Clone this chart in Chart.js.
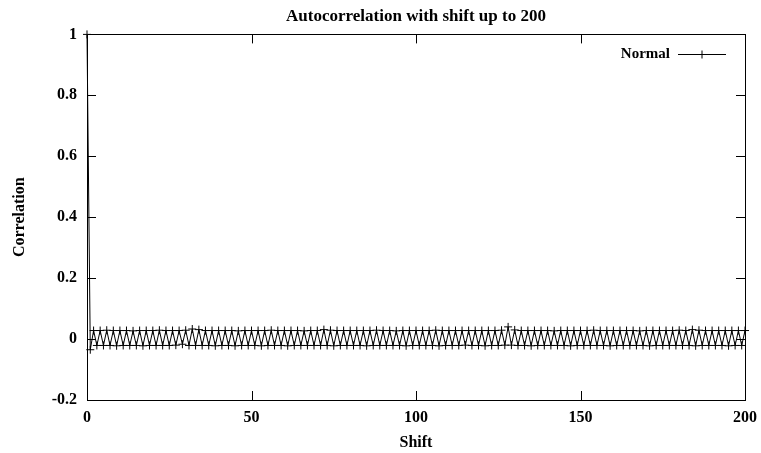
<!DOCTYPE html>
<html>
<head>
<meta charset="utf-8">
<script src="https://cdn.jsdelivr.net/npm/chart.js@4.4.1/dist/chart.umd.min.js"></script>
<style>
  html, body { margin: 0; padding: 0; background: #fff; }
  #wrap { width: 761px; height: 453px; }
</style>
</head>
<body>
<div id="wrap"><canvas id="acf" width="761" height="453"></canvas></div>
<script>
// Autocorrelation of the "Normal" sequence, shifts 0..200
const seriesName = "Normal";
const xTicks = [0, 50, 100, 150, 200];
const yTicks = [-0.2, 0, 0.2, 0.4, 0.6, 0.8, 1];

const correlation = [
  1, -0.035, 0.028, -0.021, 0.028, -0.021, 0.029, -0.021, 0.028, -0.022,
  0.028, -0.021, 0.028, -0.021, 0.027, -0.021, 0.028, -0.022, 0.028, -0.021,
  0.028, -0.021, 0.029, -0.021, 0.028, -0.021, 0.028, -0.020, 0.028, -0.017,
  0.029, -0.021, 0.033, -0.021, 0.031, -0.021, 0.028, -0.021, 0.028, -0.022,
  0.028, -0.021, 0.028, -0.021, 0.028, -0.022, 0.027, -0.021, 0.028, -0.021,
  0.028, -0.021, 0.028, -0.022, 0.028, -0.021, 0.029, -0.021, 0.028, -0.021,
  0.028, -0.022, 0.028, -0.021, 0.028, -0.021, 0.027, -0.021, 0.028, -0.021,
  0.028, -0.021, 0.031, -0.021, 0.029, -0.022, 0.028, -0.021, 0.028, -0.021,
  0.028, -0.021, 0.028, -0.021, 0.028, -0.022, 0.028, -0.021, 0.029, -0.021,
  0.028, -0.021, 0.028, -0.021, 0.027, -0.021, 0.028, -0.022, 0.028, -0.021,
  0.028, -0.021, 0.028, -0.021, 0.028, -0.021, 0.029, -0.022, 0.028, -0.021,
  0.028, -0.021, 0.028, -0.021, 0.028, -0.020, 0.028, -0.021, 0.028, -0.021,
  0.028, -0.022, 0.028, -0.021, 0.028, -0.021, 0.029, -0.020, 0.040, -0.020,
  0.030, -0.021, 0.028, -0.021, 0.028, -0.022, 0.028, -0.021, 0.028, -0.021,
  0.028, -0.021, 0.027, -0.021, 0.028, -0.021, 0.028, -0.022, 0.028, -0.021,
  0.028, -0.021, 0.028, -0.021, 0.029, -0.021, 0.028, -0.021, 0.028, -0.022,
  0.028, -0.021, 0.028, -0.021, 0.028, -0.021, 0.028, -0.021, 0.027, -0.021,
  0.028, -0.022, 0.028, -0.021, 0.028, -0.021, 0.028, -0.021, 0.028, -0.021,
  0.029, -0.021, 0.028, -0.021, 0.031, -0.022, 0.029, -0.021, 0.028, -0.021,
  0.028, -0.021, 0.028, -0.021, 0.028, -0.022, 0.028, -0.021, 0.028, -0.021,
  0.028
];

const points = correlation.map((v, shift) => ({ x: shift, y: v }));

Chart.defaults.font.family = "'Liberation Serif', 'Times New Roman', serif";
Chart.defaults.font.weight = 'bold';
Chart.defaults.font.size = 16;
Chart.defaults.color = '#000';

// gnuplot-like frame: box around the plot, ticks pointing inward, key in the corner
const framePlugin = {
  id: 'frame',
  afterLayout(chart) {
    // centre the title over the plot area instead of the whole canvas
    const t = chart.titleBlock;
    if (t) {
      t.left = chart.chartArea.left;
      t.right = chart.chartArea.right;
    }
  },
  afterDraw(chart) {
    const { ctx, chartArea: a, scales: { x, y } } = chart;
    const tl = 9;
    ctx.save();
    ctx.strokeStyle = '#000';
    ctx.lineWidth = 1;
    ctx.strokeRect(Math.round(a.left) + 0.5, Math.round(a.top) + 0.5,
      Math.round(a.right - a.left), Math.round(a.bottom - a.top));
    ctx.beginPath();
    xTicks.forEach(v => {
      const px = Math.round(x.getPixelForValue(v)) + 0.5;
      ctx.moveTo(px, a.bottom); ctx.lineTo(px, a.bottom - tl);
      ctx.moveTo(px, a.top); ctx.lineTo(px, a.top + tl);
    });
    yTicks.forEach(v => {
      const py = Math.round(y.getPixelForValue(v)) + 0.5;
      ctx.moveTo(a.left, py); ctx.lineTo(a.left + tl, py);
      ctx.moveTo(a.right, py); ctx.lineTo(a.right - tl, py);
    });
    ctx.stroke();

    // key: label on the left, line sample with a cross on the right
    const ky = 54.5;
    const kx0 = 678, kx1 = 726, kc = (kx0 + kx1) / 2;
    ctx.font = "bold 15px 'Liberation Serif', serif";
    ctx.fillStyle = '#000';
    ctx.textAlign = 'right';
    ctx.textBaseline = 'middle';
    ctx.fillText(chart.data.datasets[0].label, 670, ky);
    ctx.beginPath();
    ctx.moveTo(kx0, ky); ctx.lineTo(kx1, ky);
    ctx.moveTo(kc, ky - 4); ctx.lineTo(kc, ky + 4);
    ctx.stroke();
    ctx.restore();
  }
};

new Chart(document.getElementById('acf'), {
  type: 'line',
  data: {
    datasets: [{
      label: seriesName,
      data: points,
      borderColor: '#000',
      borderWidth: 1,
      pointStyle: 'cross',
      pointRadius: 4,
      pointBorderColor: '#000',
      pointBorderWidth: 1,
      tension: 0,
      fill: false,
      clip: false
    }]
  },
  options: {
    responsive: false,
    animation: false,
    layout: { padding: { top: 0, left: 0, right: 16, bottom: 0 } },
    plugins: {
      legend: { display: false },
      tooltip: { enabled: false },
      title: {
        display: true,
        text: 'Autocorrelation with shift up to 200',
        font: { size: 17, weight: 'bold' },
        padding: { top: 6, bottom: 8 }
      }
    },
    scales: {
      x: {
        type: 'linear',
        min: 0,
        max: 200,
        afterFit: s => { s.height = 53; s.paddingLeft = 0; s.paddingRight = 0; },
        afterBuildTicks: s => { s.ticks = xTicks.map(v => ({ value: v })); },
        grid: { display: false, drawTicks: false },
        border: { display: false },
        ticks: { padding: 8, maxRotation: 0 },
        title: { display: true, text: 'Shift', padding: { top: 0, bottom: 1 } }
      },
      y: {
        type: 'linear',
        min: -0.2,
        max: 1,
        afterFit: s => { s.width = 87; s.paddingTop = 0; s.paddingBottom = 0; },
        afterBuildTicks: s => { s.ticks = yTicks.map(v => ({ value: v })); },
        grid: { display: false, drawTicks: false },
        border: { display: false },
        ticks: { padding: 10, callback: v => String(Math.round(v * 10) / 10) },
        title: { display: true, text: 'Correlation', padding: { top: 10, bottom: 0 } }
      }
    }
  },
  plugins: [framePlugin]
});
</script>
</body>
</html>
